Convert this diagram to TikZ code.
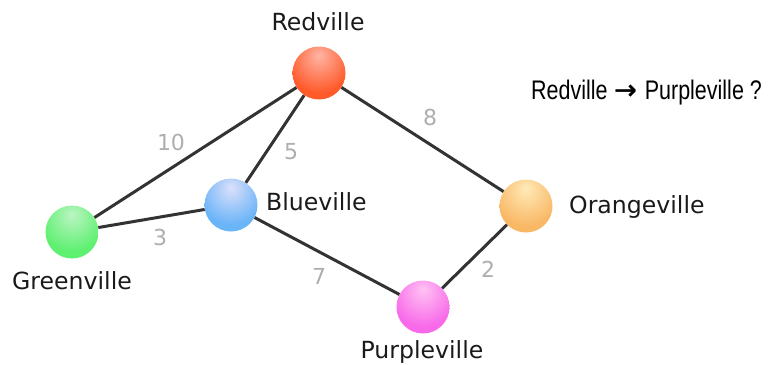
\documentclass[tikz,border=0pt]{standalone}
\usepackage{fontspec}
\setmainfont{DejaVu Sans}
\newfontfamily\qfont{Liberation Sans}
\newfontfamily\arrfont[FakeBold=1.2]{DejaVu Sans}
\definecolor{edgecol}{HTML}{333333}
\definecolor{numcol}{HTML}{AEAEAE}
\definecolor{txtcol}{HTML}{1A1A1A}
\colorlet{sphin}{white}\colorlet{sphmid}{gray}\colorlet{sphout}{gray}
\pgfdeclareradialshading[sphin,sphmid,sphout]{sphere}{\pgfpoint{0bp}{17bp}}{color(0bp)=(sphin); color(30bp)=(sphmid); color(55bp)=(sphmid); color(68bp)=(sphout); color(90bp)=(sphout)}
\tikzset{
  sph/.style n args={3}{/utils/exec={\definecolor{sphin}{HTML}{#1}\definecolor{sphmid}{HTML}{#2}\definecolor{sphout}{HTML}{#3}},
    circle, minimum size=53pt, inner sep=0pt, shade, shading=sphere},
  city/.style={font=\fontsize{23.6}{27}\selectfont, text=txtcol, inner sep=0pt},
  num/.style={font=\fontsize{22}{26}\selectfont, text=numcol, inner sep=0pt, anchor=base},
  road/.style={draw=edgecol, line width=3pt}
}
\begin{document}
\begin{tikzpicture}[x=1pt,y=-1pt]
\useasboundingbox (0,0) rectangle (768,364);
% spheres
\node[sph={FFB5A5}{FF5A2A}{F24412}] (R) at (319,73) {};
\node[sph={DDE0FA}{6AB4F8}{58A8F4}] (B) at (231,205) {};
\node[sph={BBF5C3}{5EF070}{4CE85C}] (G) at (72,232) {};
\node[sph={FFEAB8}{F9B866}{F3AA55}] (O) at (526,206) {};
\node[sph={FFC2F3}{F86AE9}{F055E2}] (P) at (423,307) {};
% roads
\draw[road] (R) -- (G);
\draw[road] (R) -- (B);
\draw[road] (B) -- (G);
\draw[road] (R) -- (O);
\draw[road] (B) -- (P);
\draw[road] (P) -- (O);
% city names
\node[city, anchor=base] (Rl) at (318,30.5) {Redville};
\node[city, anchor=base west] (Bl) at (266,210.5) {Blueville};
\node[city, anchor=base] (Gl) at (72,289.5) {Greenville};
\node[city, anchor=base west] (Ol) at (569,213.5) {Orangeville};
\node[city, anchor=base] (Pl) at (422,358) {Purpleville};
% weights
\node[num] (w10) at (171,150) {10};
\node[num] (w5) at (291,159) {5};
\node[num] (w3) at (160,245) {3};
\node[num] (w7) at (319,284) {7};
\node[num] (w8) at (430,125) {8};
\node[num] (w2) at (488,277) {2};
% question
\node[anchor=base west, inner sep=0pt, text=black] (q) at (531,99)
  {\qfont\fontsize{21.5}{25}\selectfont\scalebox{1}[1.25]{Redville}\hspace{6.5pt}{\arrfont\fontsize{27}{30}\selectfont →}\hspace{8pt}\scalebox{1}[1.25]{Purpleville ?}};
\end{tikzpicture}
\end{document}
